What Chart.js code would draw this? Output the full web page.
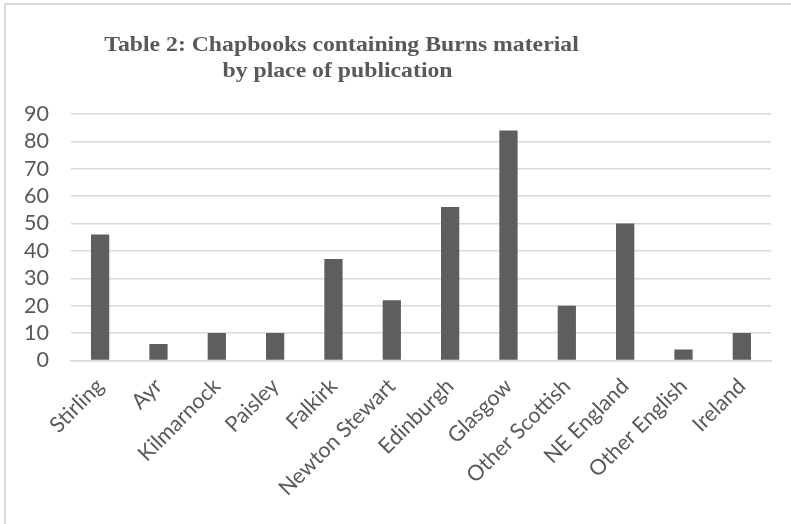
<!DOCTYPE html>
<html>
<head>
<meta charset="utf-8">
<script src="https://cdn.jsdelivr.net/npm/chart.js@4.4.1/dist/chart.umd.min.js"></script>
<style>
    html, body { margin: 0; padding: 0; background: #fff; overflow: hidden; }
    #frame {
        position: absolute; left: 4px; top: 3px; width: 900px; height: 700px;
        border-left: 2px solid #d9d9d9; border-top: 2px solid #d9d9d9;
    }
    #wrap { position: absolute; left: 0; top: 0; width: 791px; height: 524px; }
</style>
</head>
<body>
<div id="frame"></div>
<div id="wrap"><canvas id="chart"></canvas></div>
<script>
const places = ['Stirling', 'Ayr', 'Kilmarnock', 'Paisley', 'Falkirk', 'Newton Stewart',
    'Edinburgh', 'Glasgow', 'Other Scottish', 'NE England', 'Other English', 'Ireland'];
const chapbooks = [46, 6, 10, 10, 37, 22, 56, 84, 20, 50, 4, 10];
const titleLines = ['Table 2: Chapbooks containing Burns material', 'by place of publication'];

const textColor = '#595959';
const gridColor = '#d9d9d9';
const labelFont = { family: 'Lato, "Open Sans", sans-serif', size: 21.5 };

// title drawn by hand: it sits left of centre and is a bit wider than normal, as in the original
const titleText = {
    id: 'titleText',
    afterDraw(chart) {
        const ctx = chart.ctx;
        ctx.save();
        ctx.fillStyle = textColor;
        ctx.font = 'bold 21px "Liberation Serif", "Times New Roman", serif';
        ctx.textAlign = 'center';
        ctx.textBaseline = 'alphabetic';
        const stretch = 1.13;
        [[titleLines[0], 341.5, 51], [titleLines[1], 337.5, 77]].forEach(([txt, x, y]) => {
            ctx.save();
            ctx.translate(x, y);
            ctx.scale(stretch, 1);
            ctx.fillText(txt, 0, 0);
            ctx.restore();
        });
        ctx.restore();
    }
};

new Chart(document.getElementById('chart'), {
    type: 'bar',
    data: {
        labels: places,
        datasets: [{
            data: chapbooks,
            backgroundColor: '#5e5e5e',
            categoryPercentage: 1,
            barPercentage: 0.313
        }]
    },
    options: {
        responsive: true,
        maintainAspectRatio: false,
        animation: false,
        layout: { padding: { top: 114, left: 2, right: 20, bottom: 18 } },
        plugins: {
            legend: { display: false },
            title: { display: false },
            tooltip: { enabled: false }
        },
        scales: {
            x: {
                grid: { display: false },
                border: { color: gridColor, width: 1.5 },
                ticks: {
                    color: textColor,
                    font: labelFont,
                    minRotation: 45,
                    maxRotation: 45,
                    autoSkip: false,
                    padding: 5
                }
            },
            y: {
                min: 0,
                max: 90,
                grid: { color: gridColor, lineWidth: 1.5, drawTicks: false },
                border: { display: false },
                ticks: {
                    stepSize: 10,
                    autoSkip: false,
                    color: textColor,
                    font: labelFont,
                    padding: 22
                }
            }
        }
    },
    plugins: [titleText]
});
</script>
</body>
</html>
